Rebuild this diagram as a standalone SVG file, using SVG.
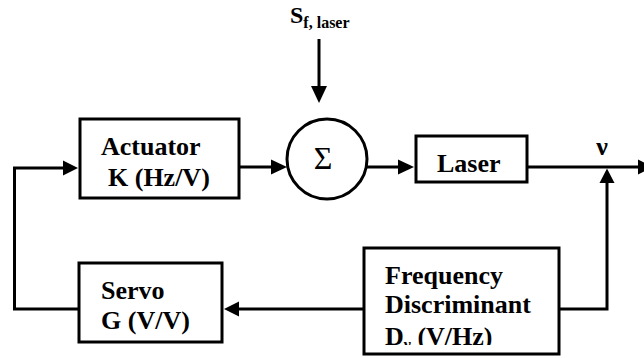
<svg xmlns="http://www.w3.org/2000/svg" width="644" height="358" viewBox="0 0 644 358">
<style>
.box{fill:#fff;stroke:#000;stroke-width:3}
.ln{fill:none;stroke:#000;stroke-width:3}
.ah{fill:#000;stroke:none}
.t{font-family:"Liberation Serif","Times New Roman",serif;font-weight:bold;font-size:26px;fill:#000}
</style>
<defs>
<clipPath id="clip3"><rect x="360" y="240" width="200" height="105"/></clipPath>
</defs>
<g id="connectors">
<line class="ln" x1="319" y1="39" x2="319" y2="88"/>
<polygon class="ah" points="311,86 327,86 319,103"/>
<line class="ln" x1="239" y1="167" x2="272" y2="167"/>
<polygon class="ah" points="271,159.5 271,174.5 287,167"/>
<line class="ln" x1="367" y1="167" x2="400" y2="167"/>
<polygon class="ah" points="398,159.5 398,174.5 414,167"/>
<line class="ln" x1="527" y1="167" x2="640" y2="167"/>
<polygon class="ah" points="638,159.5 638,174.5 653,167"/>
<polyline class="ln" points="559,309 607,309 607,182"/>
<polygon class="ah" points="599.5,183 614.5,183 607,168.5"/>
<line class="ln" x1="364" y1="309" x2="238" y2="309"/>
<polygon class="ah" points="239,301.5 239,316.5 224,309"/>
<polyline class="ln" points="79,309 14.5,309 14.5,168 64,168"/>
<polygon class="ah" points="63,160.5 63,175.5 78,168"/>
</g>
<g id="sf-label">
<text class="t" x="290" y="23" font-size="24" style="font-size:24px">S<tspan dy="4.5" style="font-size:16px">f, laser</tspan></text>
</g>
<g id="actuator">
<rect class="box" x="80" y="119" width="159" height="79"/>
<text class="t" x="101" y="155">Actuator</text>
<text class="t" x="108" y="186">K (Hz/V)</text>
</g>
<g id="sum">
<circle class="box" cx="327" cy="159" r="40"/>
<text x="323" y="169" text-anchor="middle" style="font-family:'Liberation Serif','Times New Roman',serif;font-size:32px;fill:#000">Σ</text>
</g>
<g id="laser">
<rect class="box" x="416" y="136" width="111" height="46"/>
<text class="t" x="437" y="172">Laser</text>
</g>
<g id="nu-label">
<text class="t" x="602" y="155" text-anchor="middle">ν</text>
</g>
<g id="servo">
<rect class="box" x="79" y="263" width="143" height="79"/>
<text class="t" x="101" y="299">Servo</text>
<text class="t" x="101" y="329">G (V/V)</text>
</g>
<g id="discriminant">
<rect class="box" x="364" y="248" width="195" height="106"/>
<text class="t" x="385" y="284">Frequency</text>
<text class="t" x="385" y="313">Discriminant</text>
<text class="t" x="385" y="345" clip-path="url(#clip3)">D<tspan dy="5" style="font-size:16px">ν</tspan><tspan dy="-5"> (V/Hz)</tspan></text>
</g>
</svg>
